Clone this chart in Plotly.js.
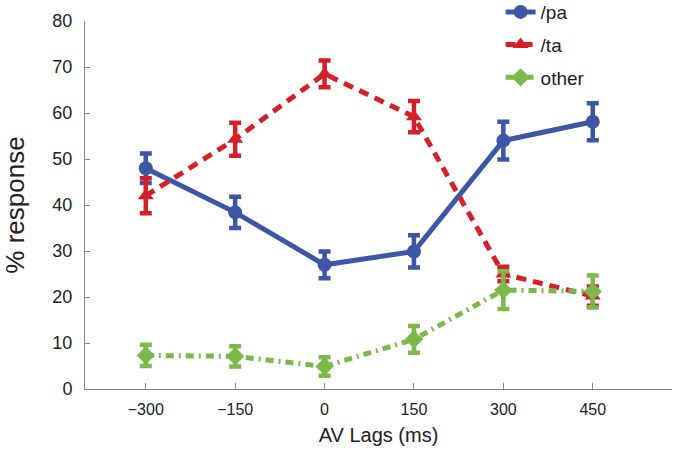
<!DOCTYPE html>
<html>
<head>
<meta charset="utf-8">
<script src="https://cdn.plot.ly/plotly-3.0.1.min.js"></script>
<style>html,body{margin:0;padding:0;background:#fff;}#chart{width:675px;height:451px;}</style>
</head>
<body>
<div id="chart"></div>
<script>
const lags = [-300, -150, 0, 150, 300, 450];
const tickLabels = ["\u2212300", "\u2212150", "0", "150", "300", "450"];
const yTicks = [0, 10, 20, 30, 40, 50, 60, 70, 80];

const paValues = [48.0, 38.4, 27.0, 29.9, 54.0, 58.1];
const paErrors = [3.2, 3.4, 2.9, 3.5, 4.1, 4.0];

const taValues = [42.0, 54.3, 68.5, 59.2, 25.0, 20.2];
const taErrors = [3.8, 3.6, 2.9, 3.4, 1.6, 2.1];

const otherValues = [7.3, 7.1, 4.9, 10.8, 21.5, 21.2];
const otherErrors = [2.3, 2.2, 2.0, 2.9, 4.1, 3.5];

const blue = "#3d56a6";
const red = "#d42029";
const green = "#7cb84a";

function mk(name, vals, errs, color, dash, symbol, group) {
  return {
    type: "scatter", mode: "lines+markers", name: name,
    x: lags, y: vals, legendgroup: group,
    line: {color: color, width: 5, dash: dash},
    marker: {color: color, symbol: symbol, size: 14},
    error_y: {type: "data", array: errs, visible: true, color: color, thickness: 4.5, width: 6}
  };
}

const data = [
  mk("/pa", paValues, paErrors, blue, "solid", "circle", "g1"),
  mk("/ta", taValues, taErrors, red, "10px,7px", "triangle-up", "g2"),
  mk("other", otherValues, otherErrors, green, "8px,5px,2px,5px", "diamond", "g3")
];

const layout = {
  width: 675, height: 451,
  margin: {l: 85, r: 3, t: 21, b: 62, autoexpand: false},
  paper_bgcolor: "#fff", plot_bgcolor: "#fff",
  font: {family: "Liberation Sans, Arial, sans-serif", color: "#222"},
  showlegend: true,
  legend: {x: 0.708, y: 1.076, xanchor: "left", yanchor: "top",
           font: {size: 19, color: "#222"}, tracegroupgap: 5, traceorder: "grouped",
           bgcolor: "rgba(0,0,0,0)"},
  xaxis: {
    range: [-402, 583], tickvals: lags, ticktext: tickLabels,
    showgrid: false, zeroline: false, showline: true, linecolor: "#888", linewidth: 1,
    ticks: "inside", ticklen: 6, tickcolor: "#888",
    tickfont: {size: 16, color: "#222", family: "Liberation Sans Narrow, Liberation Sans, Arial"},
    ticklabelstandoff: 6,
    title: {text: "AV Lags (ms)", font: {size: 20, color: "#222"}, standoff: 10}
  },
  yaxis: {
    range: [0, 80], tickvals: yTicks,
    showgrid: false, zeroline: false, showline: true, linecolor: "#888", linewidth: 1,
    ticks: "inside", ticklen: 5, tickcolor: "#888",
    tickfont: {size: 18, color: "#222"},
    ticklabelstandoff: 8,
    title: {text: "% response", font: {size: 26, color: "#222"}, standoff: 36}
  }
};

Plotly.newPlot("chart", data, layout, {displayModeBar: false, staticPlot: true});
</script>
</body>
</html>
